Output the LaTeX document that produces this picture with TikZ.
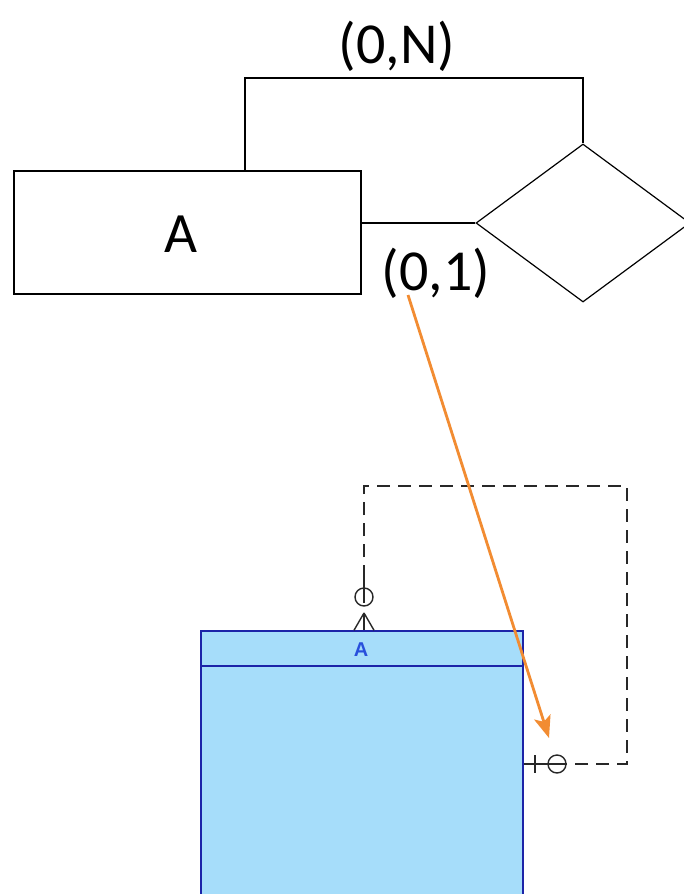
\documentclass[tikz,border=0pt]{standalone}
\usepackage{fontspec}
\setmainfont{Carlito}
\newfontfamily\uifont{Liberation Sans}
\usetikzlibrary{shapes.geometric,arrows.meta}
\definecolor{entfill}{RGB}{166,221,250}
\definecolor{entdraw}{RGB}{28,36,168}
\definecolor{enttext}{RGB}{40,80,220}
\definecolor{arrorange}{RGB}{242,140,50}
\definecolor{loopgray}{RGB}{40,40,40}
\tikzset{
  erbox/.style={draw=black, line width=1.5pt, minimum width=347pt, minimum height=123pt, inner sep=0pt},
  bigtext/.style={inner sep=0pt, font=\fontsize{57}{57}\selectfont},
  relshape/.style={draw=black, line width=1.2pt, diamond, minimum width=214pt, minimum height=158pt, inner sep=0pt},
  erline/.style={draw=black, line width=1.5pt},
  card/.style={inner sep=0pt, font=\fontsize{58}{58}\selectfont},
  entbox/.style={draw=entdraw, fill=entfill, line width=1.5pt, minimum width=322pt, minimum height=300pt, inner sep=0pt},
  enttitle/.style={inner sep=0pt, text=enttext, font=\uifont\bfseries\fontsize{20}{20}\selectfont},
  loopline/.style={draw=loopgray, line width=1.5pt, dash pattern=on 13pt off 8pt},
  notation/.style={draw=loopgray, line width=1.4pt},
  orangearrow/.style={draw=arrorange, line width=2.8pt, -{Stealth[length=22pt,width=17pt,inset=5pt]}}
}
\begin{document}
\begin{tikzpicture}[x=1pt,y=-1pt]
\clip (0,0) rectangle (684,894);
\useasboundingbox (0,0) rectangle (684,894);
\fill[white] (0,0) rectangle (684,894);

% ER diagram (top)
\node[erbox] (A) at (187.5,232.5) {};
\node[bigtext] (At) at (181,234) {A};
\node[relshape] (R) at (583,223) {};
\node[card] (cN) at (397,46) {(0,N)};
\node[card] (c1) at (436,273) {(0,1)};
\coordinate (tc) at (245,78);
\draw[erline] (tc |- A.north) -- (tc) -| (R.north);
\draw[erline] (R.west) -- (R.west -| A.east);

% Entity (bottom)
\node[entbox] (E) at (362,781) {};
\draw[entdraw, line width=2pt] ([yshift=-36pt]E.north west) -- ([yshift=-36pt]E.north east);
\node[enttitle] (Et) at (361,650) {A};

% self relationship loop
\coordinate (l1) at (364,486);
\coordinate (l2) at (627,486);
\coordinate (l3) at (627,764);
\coordinate (topend) at (364,578);
\coordinate (rightend) at (566,764);
\draw[loopline] (topend) -- (l1) -- (l2) -- (l3) -- (rightend);

% top end: circle + crow's foot
\coordinate (apex) at (364,613);
\draw[notation] (topend) -- (364,603);
\draw[notation] (364,597) circle (9pt);
\draw[notation] (apex) -- (E.north -| apex);
\draw[notation] (apex) -- ([xshift=-10pt]E.north -| apex);
\draw[notation] (apex) -- ([xshift=10pt]E.north -| apex);

% right end: bar + circle
\draw[notation] (E.east |- l3) -- (rightend);
\draw[notation] (535,755) -- (535,773);
\draw[notation] (557,764) circle (9pt);

% orange annotation arrow
\coordinate (aS) at (408,295);
\coordinate (aE) at (549,738);
\draw[orangearrow] (aS) -- (aE);
\end{tikzpicture}
\end{document}
